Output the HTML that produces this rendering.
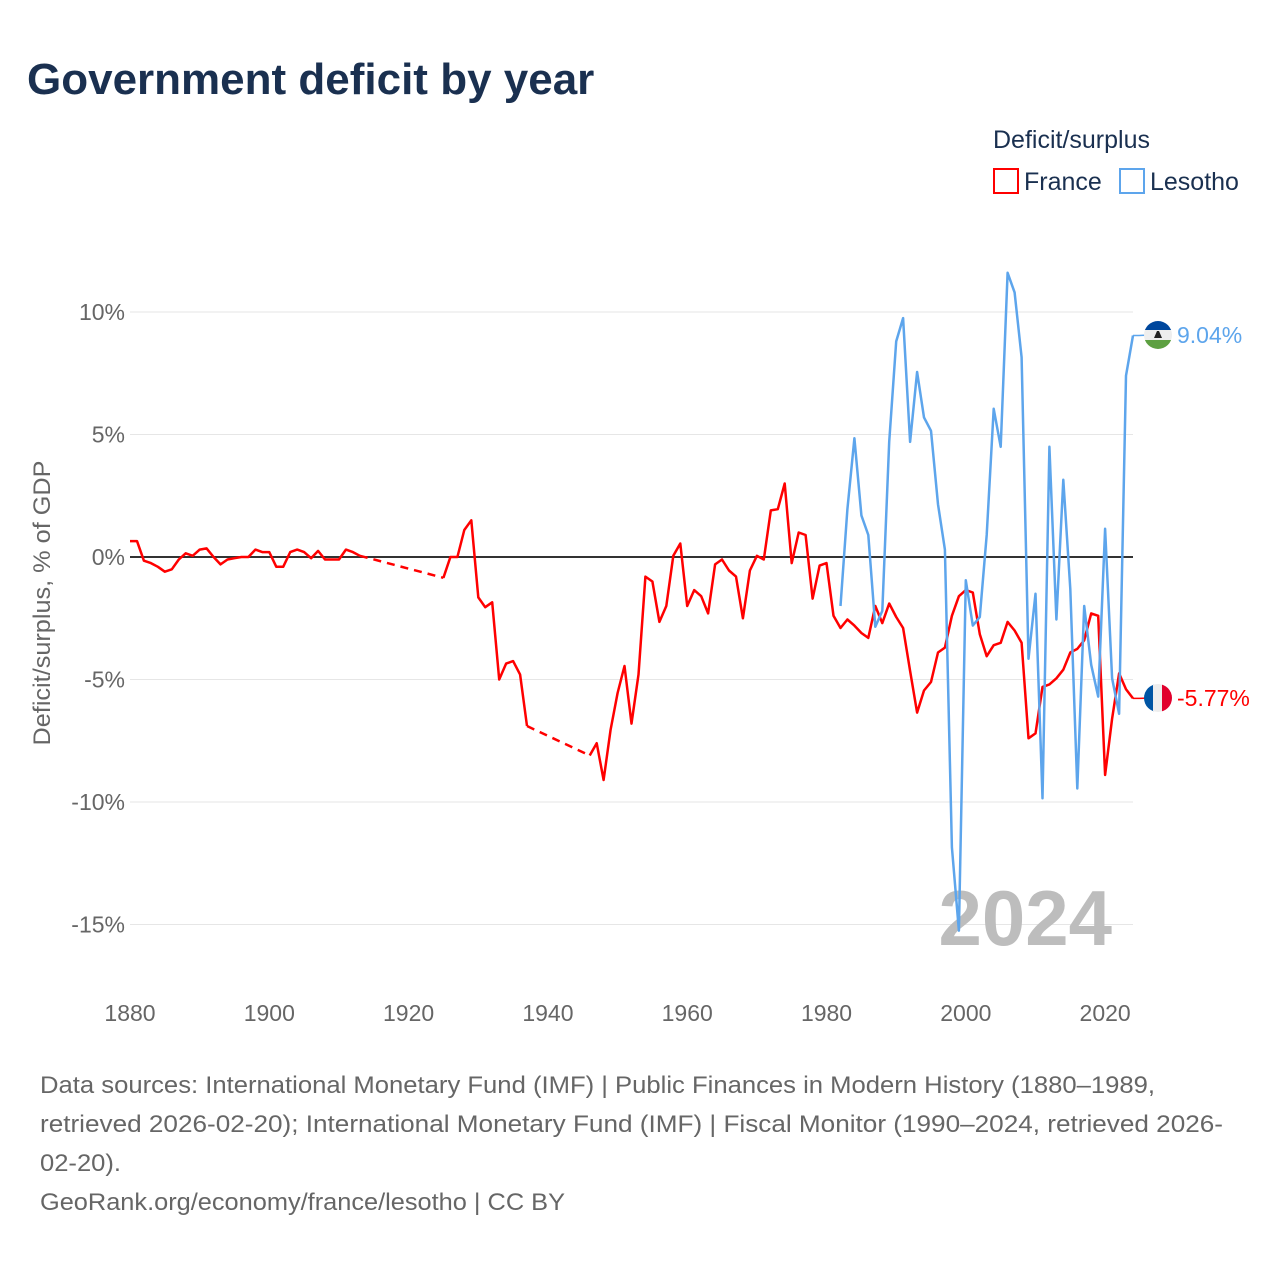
<!DOCTYPE html>
<html><head><meta charset="utf-8">
<style>
html,body{margin:0;padding:0;background:#fff;}
body{width:1280px;height:1280px;overflow:hidden;font-family:"Liberation Sans",sans-serif;}
svg text{font-family:"Liberation Sans",sans-serif;}
</style></head>
<body>
<svg id="chart" width="1280" height="1280" viewBox="0 0 1280 1280">
  <text x="27" y="94" font-size="44" font-weight="bold" fill="#1a3050">Government deficit by year</text>
  <text x="993" y="148" font-size="25" fill="#1a3050">Deficit/surplus</text>
  <g>
    <rect x="994" y="169" width="24" height="24" fill="none" stroke="#ff0000" stroke-width="2"/>
    <text x="1024" y="190" font-size="25" fill="#1a3050">France</text>
  </g>
  <g>
    <rect x="1120" y="169" width="24" height="24" fill="none" stroke="#5da5ec" stroke-width="2"/>
    <text x="1150" y="190" font-size="25" fill="#1a3050">Lesotho</text>
  </g>
  <g id="grid"></g>
  <g id="yticks"></g>
  <g id="xticks"></g>
  <text x="1112" y="945" font-size="78" font-weight="bold" fill="#bdbdbd" text-anchor="end">2024</text>
  <g id="series"></g>
  <text transform="translate(50,603) rotate(-90)" font-size="24" fill="#666" text-anchor="middle" textLength="285" lengthAdjust="spacingAndGlyphs">Deficit/surplus, % of GDP</text>
  <g id="endlabels"></g>
  <g font-size="24" fill="#666">
    <text x="40" y="1093" textLength="1115" lengthAdjust="spacingAndGlyphs">Data sources: International Monetary Fund (IMF) | Public Finances in Modern History (1880–1989,</text>
    <text x="40" y="1132" textLength="1183" lengthAdjust="spacingAndGlyphs">retrieved 2026-02-20); International Monetary Fund (IMF) | Fiscal Monitor (1990–2024, retrieved 2026-</text>
    <text x="40" y="1171" textLength="81" lengthAdjust="spacingAndGlyphs">02-20).</text>
    <text x="40" y="1210" textLength="525" lengthAdjust="spacingAndGlyphs">GeoRank.org/economy/france/lesotho | CC BY</text>
  </g>
</svg>
<script>
const yTicks = [10, 5, 0, -5, -10, -15];
const yTickLabels = ["10%", "5%", "0%", "-5%", "-10%", "-15%"];
const xTicks = [1880, 1900, 1920, 1940, 1960, 1980, 2000, 2020];
const franceYears = [1880,1881,1882,1883,1884,1885,1886,1887,1888,1889,1890,1891,1892,1893,1894,1895,1896,1897,1898,1899,1900,1901,1902,1903,1904,1905,1906,1907,1908,1909,1910,1911,1912,1913,
1925,1926,1927,1928,1929,1930,1931,1932,1933,1934,1935,1936,1937,
1946,1947,1948,1949,1950,1951,1952,1953,1954,1955,1956,1957,1958,1959,1960,1961,1962,1963,1964,1965,1966,1967,1968,1969,1970,1971,1972,1973,1974,1975,1976,1977,1978,1979,1980,1981,1982,1983,1984,1985,1986,1987,1988,1989,1990,1991,1992,1993,1994,1995,1996,1997,1998,1999,2000,2001,2002,2003,2004,2005,2006,2007,2008,2009,2010,2011,2012,2013,2014,2015,2016,2017,2018,2019,2020,2021,2022,2023,2024];
const franceValues = [0.65,0.65,-0.15,-0.25,-0.4,-0.6,-0.5,-0.1,0.15,0.05,0.3,0.35,0,-0.3,-0.1,-0.05,0,0,0.3,0.2,0.2,-0.4,-0.4,0.2,0.3,0.2,-0.05,0.25,-0.1,-0.1,-0.1,0.3,0.2,0.05,
-0.85,0,0,1.1,1.5,-1.65,-2.05,-1.85,-5.0,-4.35,-4.25,-4.8,-6.9,
-8.1,-7.6,-9.1,-7.05,-5.55,-4.45,-6.8,-4.8,-0.8,-1.0,-2.65,-2.0,0.05,0.55,-2.0,-1.35,-1.6,-2.3,-0.3,-0.1,-0.55,-0.8,-2.5,-0.55,0.05,-0.1,1.9,1.95,3.0,-0.25,1.0,0.9,-1.7,-0.35,-0.25,-2.4,-2.9,-2.55,-2.8,-3.1,-3.3,-2.0,-2.7,-1.9,-2.45,-2.9,-4.65,-6.35,-5.45,-5.1,-3.9,-3.7,-2.4,-1.6,-1.35,-1.45,-3.15,-4.05,-3.6,-3.5,-2.65,-3.0,-3.5,-7.4,-7.2,-5.3,-5.2,-4.95,-4.6,-3.9,-3.75,-3.4,-2.3,-2.4,-8.9,-6.6,-4.75,-5.4,-5.77];
const lesothoYears = [1982,1983,1984,1985,1986,1987,1988,1989,1990,1991,1992,1993,1994,1995,1996,1997,1998,1999,2000,2001,2002,2003,2004,2005,2006,2007,2008,2009,2010,2011,2012,2013,2014,2015,2016,2017,2018,2019,2020,2021,2022,2023,2024];
const lesothoValues = [-2.0,1.95,4.85,1.7,0.9,-2.85,-2.2,4.7,8.8,9.75,4.7,7.55,5.7,5.15,2.15,0.3,-11.85,-15.25,-0.95,-2.8,-2.45,0.9,6.05,4.5,11.6,10.8,8.15,-4.15,-1.5,-9.85,4.5,-2.55,3.15,-1.3,-9.45,-2.0,-4.4,-5.7,1.15,-4.95,-6.4,7.4,9.04];

const NS = "http://www.w3.org/2000/svg";
const X0 = 130, X1 = 1133, Y0 = 557, PPU = 24.5;
function xs(y){ return X0 + (y - 1880) * (X1 - X0) / 144; }
function ys(v){ return Y0 - v * PPU; }
function mk(tag, attrs, parent){ const e = document.createElementNS(NS, tag); for (const k in attrs) e.setAttribute(k, attrs[k]); parent.appendChild(e); return e; }

const grid = document.getElementById('grid'), yt = document.getElementById('yticks'), xt = document.getElementById('xticks');
yTicks.forEach((v, i) => {
  const l = mk('line', {x1: X0, x2: X1, y1: ys(v), y2: ys(v), stroke: '#e6e6e6', 'stroke-width': 1}, grid);
  
  
  const t = mk('text', {x: 125, y: ys(v) + 8, 'font-size': 23, fill: '#666', 'text-anchor': 'end'}, yt);
  t.textContent = yTickLabels[i];
  
  
});
xTicks.forEach(y => {
  const t = mk('text', {x: xs(y), y: 1021, 'font-size': 23, fill: '#666', 'text-anchor': 'middle'}, xt);
  t.textContent = y;
  
  
});
const zl = mk('line', {x1: X0, x2: X1, y1: ys(0), y2: ys(0), stroke: '#333', 'stroke-width': 2}, grid);



const sg = document.getElementById('series');
function drawSeries(years, vals, color, name){
  const g = mk('g', {}, sg);
  
  
  let seg = [];
  const flush = () => { if (seg.length > 1) mk('polyline', {points: seg.join(' '), fill: 'none', stroke: color, 'stroke-width': 2.5, 'stroke-linejoin': 'round'}, g); };
  for (let i = 0; i < years.length; i++) {
    if (i > 0 && years[i] - years[i-1] > 1) {
      flush();
      mk('line', {x1: xs(years[i-1]), y1: ys(vals[i-1]), x2: xs(years[i]), y2: ys(vals[i]), stroke: color, 'stroke-width': 2.5, 'stroke-dasharray': '8,6'}, g);
      seg = [];
    }
    seg.push(xs(years[i]).toFixed(1) + ',' + ys(vals[i]).toFixed(1));
  }
  flush();
}
drawSeries(franceYears, franceValues, '#ff0000', 'france');
drawSeries(lesothoYears, lesothoValues, '#5da5ec', 'lesotho');

const el = document.getElementById('endlabels');
function endLabel(val, color, ly, flag, name){
  const g = mk('g', {}, el);
  
  
  mk('polyline', {points: `${xs(2024)},${ys(val)} ${xs(2024)+6},${ys(val)} ${1150},${ly}`, fill: 'none', stroke: color, 'stroke-width': 1.5}, g);
  const cx = 1158, r = 14;
  const cp = mk('clipPath', {id: 'c' + name}, g);
  mk('circle', {cx: cx, cy: ly, r: r}, cp);
  const fg = mk('g', {'clip-path': `url(#c${name})`}, g);
  if (flag === 'fr') {
    mk('rect', {x: cx-r, y: ly-r, width: 10, height: 28, fill: '#0055a4'}, fg);
    mk('rect', {x: cx-r+9, y: ly-r, width: 10, height: 28, fill: '#eeeeee'}, fg);
    mk('rect', {x: cx-r+18, y: ly-r, width: 10, height: 28, fill: '#e1002d'}, fg);
  } else {
    mk('rect', {x: cx-r, y: ly-r, width: 28, height: 9, fill: '#00479d'}, fg);
    mk('rect', {x: cx-r, y: ly-r+9, width: 28, height: 10, fill: '#eeeeee'}, fg);
    mk('rect', {x: cx-r, y: ly-r+19, width: 28, height: 9, fill: '#5da041'}, fg);
    mk('path', {d: `M${cx-4},${ly+3} L${cx+4},${ly+3} L${cx+1},${ly-4} L${cx-1},${ly-4}Z`, fill: '#222'}, fg);
  }
  const t = mk('text', {x: 1177, y: ly + 8, 'font-size': 23, fill: color}, g);
  t.textContent = val.toFixed(2) + '%';
}
endLabel(lesothoValues[lesothoValues.length-1], '#5da5ec', 335, 'ls', 'lesotho');
endLabel(franceValues[franceValues.length-1], '#ff0000', 698, 'fr', 'france');
</script>
</body></html>
